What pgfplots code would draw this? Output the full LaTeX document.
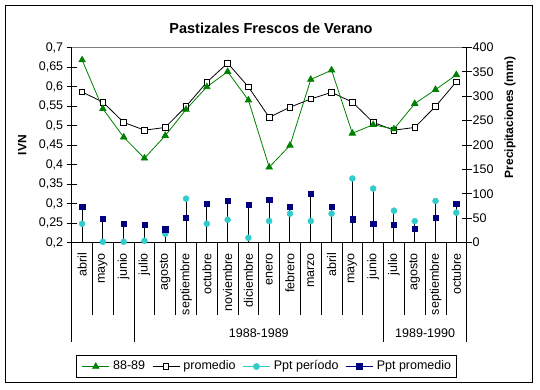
\documentclass[border=0pt]{standalone}
\usepackage{fontspec}
\setmainfont{Liberation Sans}
\usepackage{pgfplots}
\usepackage{pgfplotstable}
\pgfplotsset{compat=1.18}
\definecolor{ivngreen}{RGB}{0,128,0}
\definecolor{pptcyan}{RGB}{51,204,204}
\definecolor{pptnavy}{RGB}{0,0,128}
\pgfplotstableread{
x ivn prom pptp pptm
0 0.668 0.586 38.5 73.5
1 0.543 0.560 1.4 48.8
2 0.470 0.508 1.4 38.5
3 0.416 0.488 3.4 36.4
4 0.474 0.495 17.9 27.5
5 0.541 0.549 90.0 50.9
6 0.599 0.611 38.5 79.7
7 0.638 0.660 46.7 85.9
8 0.565 0.599 9.6 77.7
9 0.393 0.521 44.0 88.0
10 0.449 0.547 59.1 73.5
11 0.618 0.568 44.0 100.3
12 0.642 0.585 59.1 73.5
13 0.480 0.560 131.3 48.1
14 0.502 0.508 110.7 38.5
15 0.491 0.488 65.3 36.4
16 0.556 0.495 44.0 28.2
17 0.592 0.549 85.2 50.9
18 0.630 0.612 61.2 79.7
}\datatable
\pgfplotsset{
  lineleg/.style={legend image code/.code={\draw[mark repeat=2,mark phase=2] plot coordinates {(0pt,0pt)(13.5pt,0pt)(27pt,0pt)};}},
  markleg/.style={legend image code/.code={\path (0pt,0pt) -- (27pt,0pt); \draw plot coordinates {(13.5pt,0pt)};}},
}
\begin{document}
\begin{tikzpicture}
\useasboundingbox (0pt,0pt) rectangle (540pt,389pt);
\fill[white] (0pt,0pt) rectangle (540pt,389pt);
\draw[line width=1pt] (5.3pt,6.3pt) rectangle (532.7pt,383.7pt);
\node[font=\bfseries\fontsize{14.5}{16}\selectfont] at (271pt,361pt) {Pastizales Frescos de Verano};
\node[font=\bfseries\fontsize{12}{14}\selectfont, rotate=90] at (22.2pt,244pt) {IVN};
\node[font=\bfseries\fontsize{12}{14}\selectfont, rotate=90] at (510pt,271.5pt) {Precipitaciones (mm)};
\begin{axis}[
  at={(71.7pt,146.5pt)}, anchor=south west, scale only axis,
  width=395pt, height=195pt,
  xmin=-0.5, xmax=18.5, ymin=0.2, ymax=0.7,
  axis x line*=bottom, axis y line*=left,
  axis line style={-, black, line width=0.8pt},
  /pgf/number format/assume math mode=true,
  tick label style={font=\fontsize{12.5}{14}\selectfont},
  ytick={0.2,0.25,0.3,0.35,0.4,0.45,0.5,0.55,0.6,0.65,0.7},
  yticklabel style={/pgf/number format/.cd, use comma, fixed, precision=2},
  tick align=center, major tick length=10pt,
  tick style={black, line width=0.8pt},
  xtick={0,...,18},
  xticklabels={abril,mayo,junio,julio,agosto,septiembre,octubre,noviembre,diciembre,enero,febrero,marzo,abril,mayo,junio,julio,agosto,septiembre,octubre},
  x tick style={draw=none},
  xticklabel style={inner sep=0pt, yshift=-5.5pt, rotate=90, anchor=east},
  clip=false,
]
\draw[gray, line width=0.8pt] (rel axis cs:0,1) -- (rel axis cs:1,1);
\pgfplotsinvokeforeach{0,...,17}{\draw[black, line width=0.8pt] (axis cs:#1+0.5,0.2) -- ++(0pt,-72.5pt);}
\pgfplotsinvokeforeach{-0.5,2.5,14.5,18.5}{\draw[black, line width=0.8pt] (axis cs:#1,0.2) -- ++(0pt,-99.2pt);}
\node[font=\fontsize{12.5}{14}\selectfont] at (axis cs:8.5,0.2) [yshift=-90.2pt] {1988-1989};
\node[font=\fontsize{12.5}{14}\selectfont] at (axis cs:16.5,0.2) [yshift=-90.2pt] {1989-1990};
\addplot[color=black, line width=0.8pt, mark=square*, mark size=2.8pt, mark options={fill=white, draw=black}] table[x=x, y=prom] {\datatable};
\addplot[color=ivngreen, line width=0.8pt, mark=triangle*, mark size=3.6pt, mark options={fill=ivngreen}] table[x=x, y=ivn] {\datatable};
\end{axis}
\begin{axis}[
  at={(71.7pt,146.5pt)}, anchor=south west, scale only axis,
  width=395pt, height=195pt,
  xmin=-0.5, xmax=18.5, ymin=0, ymax=400,
  axis x line=none, axis y line*=right,
  axis line style={-, black, line width=0.8pt},
  /pgf/number format/assume math mode=true,
  tick label style={font=\fontsize{12.5}{14}\selectfont},
  yticklabel style={xshift=-2.5pt},
  ytick={0,50,...,400},
  tick align=center, major tick length=10pt,
  tick style={black, line width=0.8pt},
  clip=false,
  legend style={at={(0.4932,-0.6359)}, anchor=center, draw=black, line width=0.8pt,
    legend columns=4, inner xsep=5pt, inner ysep=5pt,
    font=\fontsize{12.5}{14}\selectfont,
    nodes={inner sep=0pt, text height=9pt, text depth=2.5pt},
    /tikz/every odd column/.style={column sep=3.5pt},
    /tikz/every even column/.style={column sep=7pt}},
]
\addplot[ycomb, black, line width=1pt, forget plot] table[x=x, y=pptm] {\datatable};
\addplot[ycomb, black, line width=1pt, forget plot] table[x=x, y=pptp] {\datatable};
\addlegendimage{color=ivngreen, line width=0.8pt, mark=triangle*, mark size=3.6pt, mark options={fill=ivngreen}, lineleg}
\addlegendentry{88-89}
\addlegendimage{color=black, line width=0.8pt, mark=square*, mark size=2.8pt, mark options={fill=white, draw=black}, lineleg}
\addlegendentry{promedio}
\addplot[only marks, mark=*, mark size=3pt, color=pptcyan, markleg] table[x=x, y=pptp] {\datatable};
\addlegendentry{Ppt período}
\addplot[only marks, mark=square*, mark size=2.65pt, color=pptnavy, markleg] table[x=x, y=pptm] {\datatable};
\addlegendentry{Ppt promedio}
\end{axis}
\end{tikzpicture}
\end{document}
